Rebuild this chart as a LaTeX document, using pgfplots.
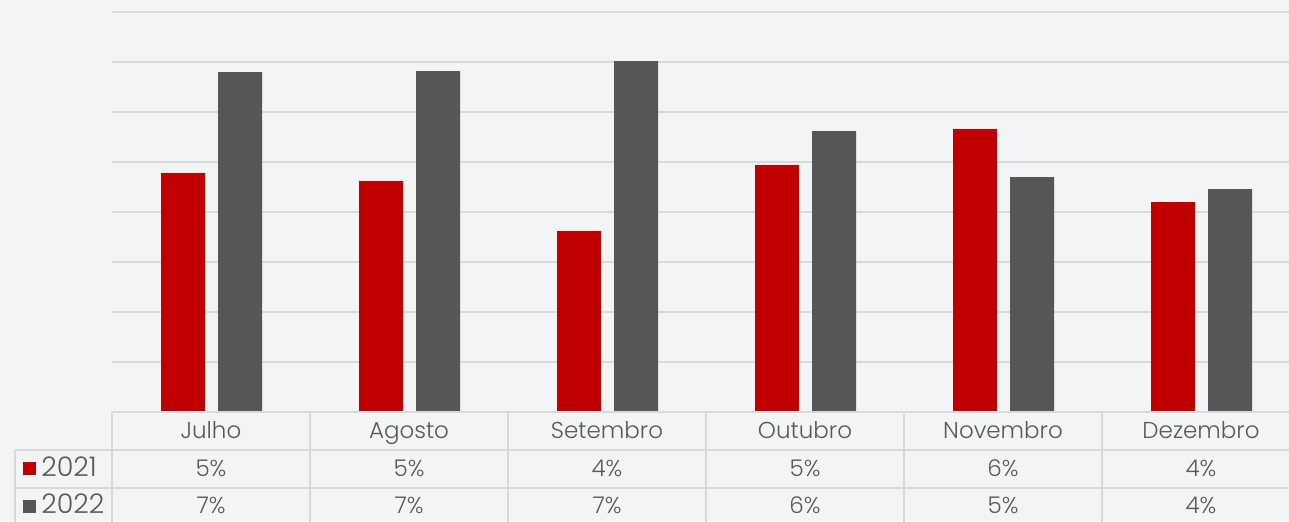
\documentclass[border=0pt]{standalone}
\usepackage{pgfplots}
\pgfplotsset{compat=1.18}
\usepackage{fontspec}
\setmainfont{Poppins}[UprightFont={* Light}]
\definecolor{bg}{HTML}{F3F4F6}
\definecolor{red21}{HTML}{C00000}
\definecolor{gray22}{HTML}{565656}
\definecolor{gridc}{HTML}{D9D9D9}
\definecolor{txt}{HTML}{595959}
\begin{document}
\begin{tikzpicture}[x=1pt,y=1pt]
\fill[bg] (-56,-54.5) rectangle (588.5,206);
\path[use as bounding box] (-56,-54.5) rectangle (588.5,206);
\begin{axis}[
  at={(0,0)}, anchor=south west,
  scale only axis, width=588.5pt, height=200pt,
  xmin=-0.5, xmax=5.4444, ymin=0, ymax=8,
  axis line style={draw=none},
  ytick={0,1,...,8}, yticklabels={},
  xtick=\empty,
  major tick length=0pt,
  ymajorgrids,
  major grid style={gridc, line width=1pt},
  clip=false,
]
\addplot[ybar, bar width=22pt, bar shift=-14pt, fill=red21, draw=none]
  coordinates {(0,4.78) (1,4.62) (2,3.62) (3,4.94) (4,5.66) (5,4.20)};
\addplot[ybar, bar width=22pt, bar shift=14.5pt, fill=gray22, draw=none]
  coordinates {(0,6.80) (1,6.82) (2,7.02) (3,5.62) (4,4.70) (5,4.46)};
\end{axis}
% data table
\draw[gridc, line width=1pt] (0,0) -- (600,0);
\draw[gridc, line width=1pt] (-48.5,-19) -- (600,-19);
\draw[gridc, line width=1pt] (-48.5,-38) -- (600,-38);
\draw[gridc, line width=1pt] (-48.5,-19) -- (-48.5,-60);
\foreach \i in {0,...,6} {\draw[gridc, line width=1pt] (99*\i,0) -- (99*\i,-60);}
\tikzset{tt/.style={txt, anchor=base, inner sep=0pt, font=\fontsize{11.5}{14}\selectfont}}
\foreach \m [count=\i from 0] in {Julho,Agosto,Setembro,Outubro,Novembro,Dezembro}
  {\node[tt] at (49.5+99*\i,-13) {\m};}
\foreach \v [count=\i from 0] in {5,5,4,5,6,4}
  {\node[tt] at (49.5+99*\i,-32) {\v\%};}
\foreach \v [count=\i from 0] in {7,7,7,6,5,4}
  {\node[tt] at (49.5+99*\i,-50.5) {\v\%};}
\fill[red21] (-44.5,-31.5) rectangle (-38,-25);
\fill[gray22] (-44.5,-50.5) rectangle (-38,-44);
\node[tt, anchor=base west, font=\fontsize{13.5}{16}\selectfont] at (-35.5,-32) {2021};
\node[tt, anchor=base west, font=\fontsize{13.5}{16}\selectfont] at (-35.5,-50.5) {2022};
\end{tikzpicture}
\end{document}
